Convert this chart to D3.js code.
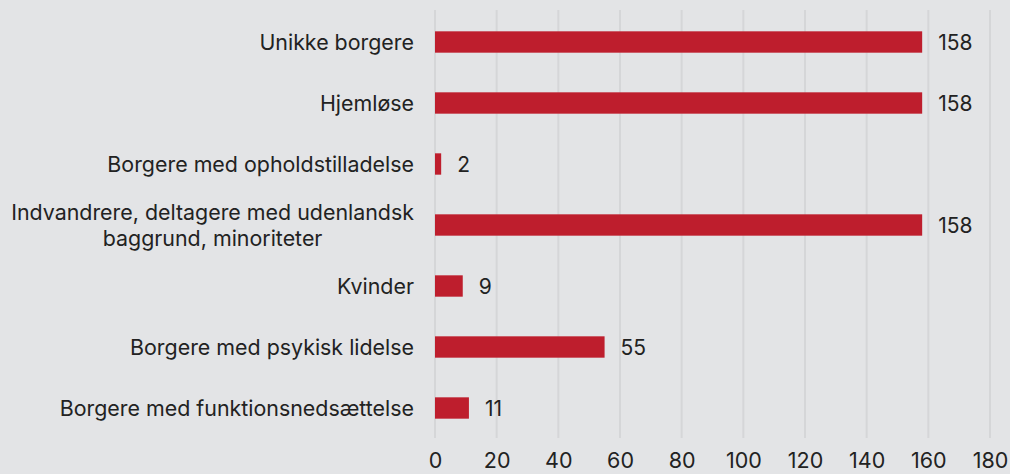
<!DOCTYPE html>
<html><head><meta charset="utf-8">
<script src="https://cdn.jsdelivr.net/npm/d3@7"></script>
<style>
html,body{margin:0;padding:0;background:#e3e4e6;}
svg{display:block;font-family:Inter,"Noto Sans",sans-serif;}
</style></head>
<body><svg id="c" width="1010" height="474"></svg>
<script>
const categories = [
  ["Unikke borgere"],
  ["Hjemløse"],
  ["Borgere med opholdstilladelse"],
  ["Indvandrere, deltagere med udenlandsk", "baggrund, minoriteter"],
  ["Kvinder"],
  ["Borgere med psykisk lidelse"],
  ["Borgere med funktionsnedsættelse"]
];
const values = [158, 158, 2, 158, 9, 55, 11];
const ticks = [0, 20, 40, 60, 80, 100, 120, 140, 160, 180];

const svg = d3.select("#c");
const W = 1010, H = 474;
svg.append("rect").attr("width", W).attr("height", H).attr("fill", "#e3e4e6");

const x = d3.scaleLinear().domain([0, 180]).range([435, 990]);
const y = d3.scaleBand().domain(d3.range(categories.length)).range([11.5, 438.5]).paddingInner(0.65).paddingOuter(0.325);

// gridlines
svg.append("g").selectAll("line").data(ticks).join("line")
  .attr("x1", d => x(d)).attr("x2", d => x(d))
  .attr("y1", 10).attr("y2", 438)
  .attr("stroke", "#d5d6d8").attr("stroke-width", 2);

// axis labels
const ax = d3.axisBottom(x).tickValues(ticks).tickSize(0).tickPadding(0);
const axg = svg.append("g").attr("transform", "translate(0,453)").call(ax);
axg.select(".domain").remove();
axg.selectAll("text").attr("font-size", 21.5).attr("fill", "#222").attr("font-family", "Inter,'Noto Sans',sans-serif").attr("dy", "0.71em");

// bars
svg.append("g").selectAll("rect").data(values).join("rect")
  .attr("x", x(0)).attr("y", (d, i) => y(i))
  .attr("width", d => x(d) - x(0)).attr("height", y.bandwidth())
  .attr("fill", "#be1e2d");

// value labels
svg.append("g").selectAll("text").data(values).join("text")
  .attr("x", d => x(d) + 16).attr("y", (d, i) => y(i) + y.bandwidth() / 2)
  .attr("dy", "0.36em").attr("font-size", 21).attr("fill", "#222")
  .text(d => d);

// category labels
const lg = svg.append("g");
categories.forEach((lines, i) => {
  const cy = y(i) + y.bandwidth() / 2;
  const lh = 26;
  const t = lg.append("text").attr("font-size", 21.4).attr("fill", "#222");
  const spans = lines.map((l, k) => t.append("tspan").text(l)
    .attr("y", cy + (k - (lines.length - 1) / 2) * lh).attr("dy", "0.36em"));
  const widths = spans.map(s => s.node().getComputedTextLength());
  const maxW = d3.max(widths);
  const rightX = 414;
  spans.forEach((s, k) => {
    s.attr("x", rightX - maxW / 2).attr("text-anchor", "middle");
  });
});
</script></body></html>
